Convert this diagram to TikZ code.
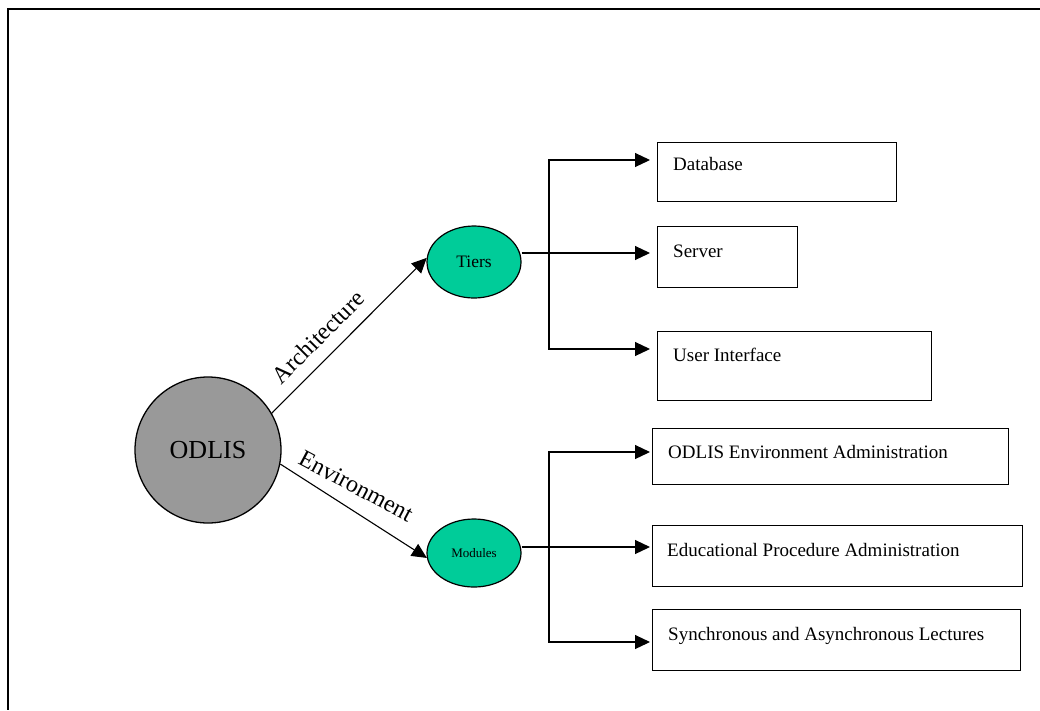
\documentclass[tikz,border=0pt]{standalone}
\usepackage{fontspec}
\setmainfont{Liberation Serif}
\usetikzlibrary{arrows.meta,shapes.geometric}
\definecolor{tealfill}{RGB}{0,204,153}
\definecolor{greyfill}{RGB}{153,153,153}
\begin{document}
\begin{tikzpicture}[x=1pt,y=-1pt,
  conn/.style={line width=1.1pt},
  arr/.style={conn,-{Triangle[length=15pt,width=14pt]}},
  arrtwo/.style={conn,{Triangle[length=15pt,width=14pt]}-{Triangle[length=15pt,width=14pt]}},
  box/.style={draw,line width=1.4pt,anchor=north west,inner sep=0pt},
  lbl/.style={anchor=base west,inner sep=0pt,font=\fontsize{19}{22}\selectfont},
  oval/.style={ellipse,draw,line width=1.2pt,fill=tealfill,inner sep=0pt},
  edgelbl/.style={inner sep=0pt,font=\fontsize{24}{28}\selectfont}]
\useasboundingbox (0,0) rectangle (1040,710);

% page frame (top and left edges)
\draw[line width=2pt] (1040,9) -- (8,9) -- (8,710);

% central topic and the two branches
\node[circle,draw,line width=1.3pt,fill=greyfill,minimum size=146pt,inner sep=0pt,
      font=\fontsize{26}{30}\selectfont] (odlis) at (208,450) {ODLIS};
\node[oval,minimum width=94pt,minimum height=72pt,font=\fontsize{17.5}{20}\selectfont]
      (tiers) at (474,262) {Tiers};
\node[oval,minimum width=94pt,minimum height=68pt,font=\fontsize{13}{15}\selectfont]
      (modules) at (474,553) {Modules};

\draw[arr] (odlis.30) -- (tiers.175);
\draw[arr] (odlis.-11) -- (modules.186);
\node[edgelbl,rotate=45] (archlbl) at (318,337) {Architecture};
\node[edgelbl,rotate=-28] (envlbl) at (356,486) {Environment};

% tier boxes
\node[box,minimum width=239pt,minimum height=59pt] (db) at (657,142) {};
\node[box,minimum width=140pt,minimum height=61pt] (srv) at (657,226) {};
\node[box,minimum width=274pt,minimum height=69pt] (ui) at (657,331) {};
\node[lbl] (dbt) at (673,170) {Database};
\node[lbl] (srvt) at (673,257) {Server};
\node[lbl] (uit) at (673,361) {User Interface};

% module boxes
\node[box,minimum width=356pt,minimum height=56pt] (env) at (652,428) {};
\node[box,minimum width=370pt,minimum height=61pt] (edu) at (652,525) {};
\node[box,minimum width=368pt,minimum height=61pt] (syn) at (652,609) {};
\node[lbl] (envt) at (668,458) {ODLIS Environment Administration};
\node[lbl] (edut) at (667,556) {Educational Procedure Administration};
\node[lbl] (synt) at (668,640) {Synchronous and Asynchronous Lectures};

% arrow tips in front of the boxes and the vertical buses
\coordinate (dbin) at (650,160);
\coordinate (srvin) at (650,253);
\coordinate (uiin) at (650,349);
\coordinate (envin) at (650,452);
\coordinate (eduin) at (650,547);
\coordinate (synin) at (650,642);
\coordinate (bus) at (549,0);

\draw[arr] (tiers.east |- srvin) -- (srvin);
\draw[arrtwo] (dbin) -- (bus |- dbin) -- (bus |- uiin) -- (uiin);

\draw[arr] (modules.east |- eduin) -- (eduin);
\draw[arrtwo] (envin) -- (bus |- envin) -- (bus |- synin) -- (synin);
\end{tikzpicture}
\end{document}
